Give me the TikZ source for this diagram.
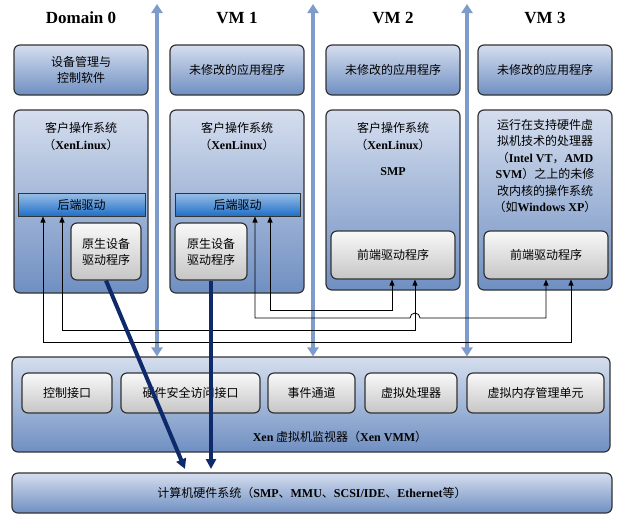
\documentclass[tikz,border=0pt]{standalone}
\usepackage{fontspec}
\setmainfont{Noto Sans CJK SC}
\newfontfamily\lat{Liberation Serif}
\usetikzlibrary{arrows.meta,positioning}
\definecolor{boxtop}{HTML}{D5DEEE}
\definecolor{boxbot}{HTML}{6F8FC2}
\definecolor{barblue}{HTML}{1F6FC8}
\definecolor{busblue}{HTML}{7E9CCB}
\definecolor{navy}{HTML}{0F2A6B}
\tikzset{
  box/.style={draw=black!80, line width=1.2pt, rounded corners=6pt,
    top color=boxtop, bottom color=boxbot, inner sep=2pt, align=center,
    font=\fontsize{12}{16}\selectfont},
  gray box/.style={box, top color=white!95!gray, bottom color=gray!45},
  bar/.style={draw=black!80, line width=1pt, top color=barblue!45, bottom color=barblue,
    font=\fontsize{12}{14}\selectfont},
  title/.style={font=\lat\bfseries\fontsize{17}{18}\selectfont},
  bus/.style={draw=busblue, line width=3.5pt, {Triangle[width=11pt,length=9pt]}-{Triangle[width=11pt,length=9pt]}},
  wire/.style={draw=black, line width=0.8pt, {Triangle[width=5pt,length=6pt]}-{Triangle[width=5pt,length=6pt]}},
  native/.style={draw=navy, line width=4pt, -{Triangle[width=10pt,length=10pt]}},
  ostext/.style={align=center, font=\fontsize{12}{17}\selectfont}
}
\begin{document}
\begin{tikzpicture}[x=1pt,y=-1pt]
  \useasboundingbox (0,0) rectangle (623,523);
  % Titles
  \node[title] (t0) at (81,18) {Domain 0};
  \node[title] (t1) at (237,18) {VM 1};
  \node[title] (t2) at (393,18) {VM 2};
  \node[title] (t3) at (545,18) {VM 3};
  % Top boxes
  \node[box, minimum width=134pt, minimum height=50pt] (app0) at (81,70) {设备管理与\\控制软件};
  \node[box, minimum width=134pt, minimum height=50pt] (app1) at (237,70) {未修改的应用程序};
  \node[box, minimum width=134pt, minimum height=50pt] (app2) at (393,70) {未修改的应用程序};
  \node[box, minimum width=134pt, minimum height=50pt] (app3) at (545,70) {未修改的应用程序};
  % Guest OS boxes
  \node[box, minimum width=134pt, minimum height=183pt] (os0) at (81,201.5) {};
  \node[box, minimum width=134pt, minimum height=183pt] (os1) at (237,201.5) {};
  \node[box, minimum width=134pt, minimum height=180pt] (os2) at (393,200) {};
  \node[box, minimum width=134pt, minimum height=180pt] (os3) at (545,200) {};
  \node[ostext] (os0t) at (81,136) {客户操作系统\\（{\lat\bfseries XenLinux}）};
  \node[ostext] (os1t) at (237,136) {客户操作系统\\（{\lat\bfseries XenLinux}）};
  \node[ostext] (os2t) at (393,136) {客户操作系统\\（{\lat\bfseries XenLinux}）};
  \node[font=\lat\bfseries\fontsize{12}{14}\selectfont] (smp) at (393,172) {SMP};
  \node[align=center, font=\fontsize{12}{16.5}\selectfont] (os3t) at (545,166) {运行在支持硬件虚\\拟机技术的处理器\\（{\lat\bfseries Intel VT}，{\lat\bfseries AMD}\\{\lat\bfseries SVM}）之上的未修\\改内核的操作系统\\（如{\lat\bfseries Windows XP}）};
  % Drivers
  \node[bar, minimum width=127pt, minimum height=23pt, inner sep=0pt] (be0) at (81.5,204.5) {后端驱动};
  \node[bar, minimum width=125pt, minimum height=23pt, inner sep=0pt] (be1) at (237.5,204.5) {后端驱动};
  \node[gray box, minimum width=70pt, minimum height=57pt] (nd0) at (106,251.5) {原生设备\\驱动程序};
  \node[gray box, minimum width=72pt, minimum height=57pt] (nd1) at (211,251.5) {原生设备\\驱动程序};
  \node[gray box, minimum width=124pt, minimum height=48pt] (fe2) at (393,255) {前端驱动程序};
  \node[gray box, minimum width=124pt, minimum height=48pt] (fe3) at (546,255) {前端驱动程序};
  % Xen VMM
  \node[box, minimum width=598pt, minimum height=95pt] (vmm) at (311,404.5) {};
  \node[gray box, minimum width=90pt, minimum height=40pt] (ctl) at (67,393) {控制接口};
  \node[gray box, minimum width=139pt, minimum height=40pt] (hsa) at (190.5,393) {硬件安全访问接口};
  \node[gray box, minimum width=87pt, minimum height=40pt] (evt) at (311.5,393) {事件通道};
  \node[gray box, minimum width=92pt, minimum height=40pt] (vcpu) at (411,393) {虚拟处理器};
  \node[gray box, minimum width=137pt, minimum height=40pt] (vmmu) at (535.5,393) {虚拟内存管理单元};
  \node[font=\fontsize{12}{14}\selectfont] (vmmt) at (340,437) {{\lat\bfseries Xen} 虚拟机监视器（{\lat\bfseries Xen VMM}）};
  % Hardware
  \node[box, minimum width=600pt, minimum height=40pt] (hw) at (312,493) {计算机硬件系统（{\lat\bfseries SMP}、{\lat\bfseries MMU}、{\lat\bfseries SCSI/IDE}、{\lat\bfseries Ethernet}等）};
  % Buses
  \coordinate (b1) at (157,4);
  \coordinate (b2) at (313,4);
  \coordinate (b3) at (467,4);
  \draw[bus] (b1) -- (b1 |- vmm.north);
  \draw[bus] (b2) -- (b2 |- vmm.north);
  \draw[bus] (b3) -- (b3 |- vmm.north);
  % Event wires
  \draw[wire] (270,0 |- be1.south) -- (270,310) -- (392,310) -- (392,0 |- fe2.south);
  \draw[wire] (255,0 |- be1.south) -- (255,318) -- (410,318) arc (180:360:5) -- (546,318) -- (546,0 |- fe3.south);
  \draw[wire] (62,0 |- be0.south) -- (62,330) -- (415,330) -- (415,0 |- fe2.south);
  \draw[wire] (43,0 |- be0.south) -- (43,342) -- (571,342) -- (571,0 |- fe3.south);
  % Native access
  \coordinate (h0) at (185,469);
  \draw[native] (nd0.south) -- (h0);
  \draw[native] (nd1.south) -- (nd1.south |- h0);
\end{tikzpicture}
\end{document}
